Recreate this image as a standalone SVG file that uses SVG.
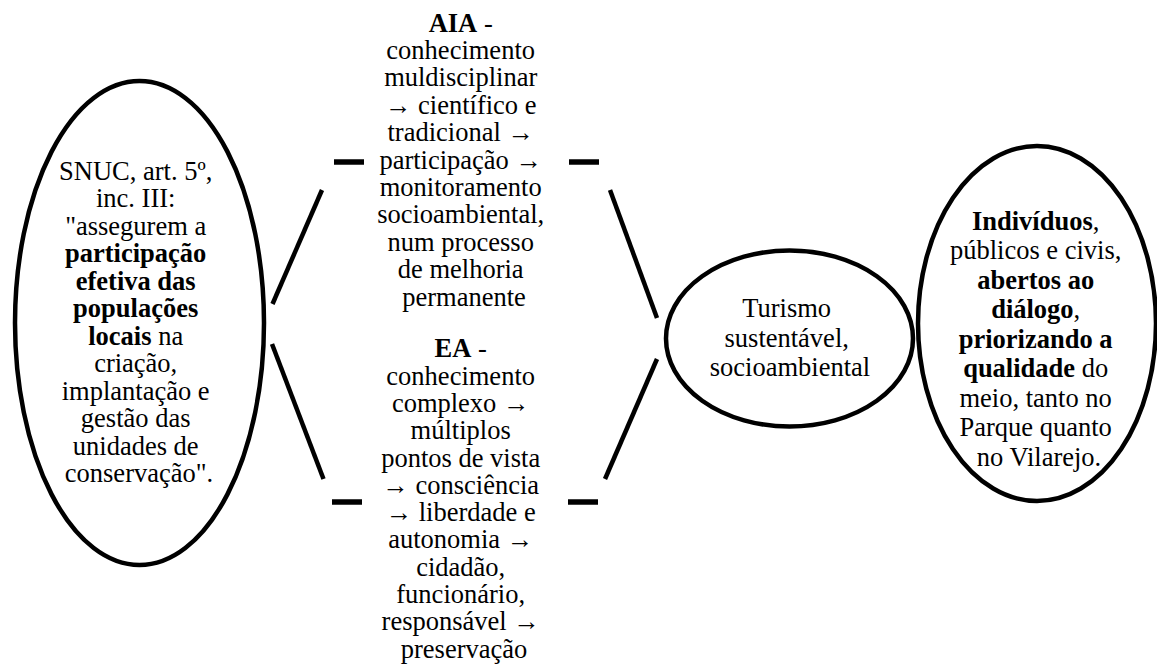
<svg xmlns="http://www.w3.org/2000/svg" width="1157" height="666" viewBox="0 0 1157 666">
<style>
.node ellipse{fill:#fff;stroke:#000;stroke-width:4.5}
text{font-family:"Liberation Serif","Times New Roman",serif;font-size:26.5px;fill:#000;text-anchor:middle}
.b{font-weight:bold}
.conn line{stroke:#000;stroke-width:4.5}
.conn line.dash{stroke-width:5.5}
</style>
<rect width="1157" height="666" fill="#fff"/>
<g id="connectors" class="conn">
<line x1="322" y1="190" x2="272.5" y2="304"/>
<line x1="272" y1="344" x2="323.5" y2="479"/>
<line class="dash" x1="334" y1="162" x2="364" y2="162"/>
<line class="dash" x1="332" y1="502" x2="362" y2="502"/>
<line class="dash" x1="569" y1="162" x2="599" y2="162"/>
<line class="dash" x1="568" y1="502" x2="598" y2="502"/>
<line x1="610" y1="190" x2="657" y2="318"/>
<line x1="657" y1="359" x2="605" y2="479"/>
</g>
<g id="snuc" class="node">
<ellipse cx="139.5" cy="323" rx="124.5" ry="242"/>
<text x="139">
<tspan x="139" y="179.5">SNUC, art. 5º,</tspan>
<tspan x="139" y="207">inc. III:</tspan>
<tspan x="139" y="234.5">"assegurem a</tspan>
<tspan x="139" y="262" class="b">participação</tspan>
<tspan x="139" y="289.5" class="b">efetiva das</tspan>
<tspan x="139" y="317" class="b">populações</tspan>
<tspan x="139" y="344.5"><tspan class="b">locais</tspan> na</tspan>
<tspan x="139" y="372">criação,</tspan>
<tspan x="139" y="399.5">implantação e</tspan>
<tspan x="139" y="427">gestão das</tspan>
<tspan x="139" y="454.5">unidades de</tspan>
<tspan x="139" y="482">conservação".</tspan>
</text>
</g>
<g id="aia" class="node">
<text x="464">
<tspan x="464" y="31.7"><tspan class="b">AIA</tspan> -</tspan>
<tspan x="464" y="59">conhecimento</tspan>
<tspan x="464" y="86.4">muldisciplinar</tspan>
<tspan x="464" y="113.8">→ científico e</tspan>
<tspan x="464" y="141.2">tradicional →</tspan>
<tspan x="464" y="168.6">participação →</tspan>
<tspan x="464" y="196">monitoramento</tspan>
<tspan x="464" y="223.4">socioambiental,</tspan>
<tspan x="464" y="250.8">num processo</tspan>
<tspan x="464" y="278.2">de melhoria</tspan>
<tspan x="464" y="305.6">permanente</tspan>
</text>
</g>
<g id="ea" class="node">
<text x="464">
<tspan x="464" y="357.3"><tspan class="b">EA</tspan> -</tspan>
<tspan x="464" y="384.6">conhecimento</tspan>
<tspan x="464" y="411.9">complexo →</tspan>
<tspan x="464" y="439.2">múltiplos</tspan>
<tspan x="464" y="466.5">pontos de vista</tspan>
<tspan x="464" y="493.8">→ consciência</tspan>
<tspan x="464" y="521.1">→ liberdade e</tspan>
<tspan x="464" y="548.4">autonomia →</tspan>
<tspan x="464" y="575.7">cidadão,</tspan>
<tspan x="464" y="603">funcionário,</tspan>
<tspan x="464" y="630.3">responsável →</tspan>
<tspan x="464" y="657.6">preservação</tspan>
</text>
</g>
<g id="turismo" class="node">
<ellipse cx="789.5" cy="338.5" rx="123.5" ry="88"/>
<text x="790">
<tspan x="790" y="316.7">Turismo</tspan>
<tspan x="790" y="346.5">sustentável,</tspan>
<tspan x="790" y="376.3">socioambiental</tspan>
</text>
</g>
<g id="individuos" class="node">
<ellipse cx="1037" cy="323.5" rx="119" ry="177.5"/>
<text x="1039">
<tspan x="1039" y="229.7"><tspan class="b">Indivíduos</tspan>,</tspan>
<tspan x="1039" y="259.2">públicos e civis,</tspan>
<tspan x="1039" y="288.7" class="b">abertos ao</tspan>
<tspan x="1039" y="318.2"><tspan class="b">diálogo</tspan>,</tspan>
<tspan x="1039" y="347.7" class="b">priorizando a</tspan>
<tspan x="1039" y="377.2"><tspan class="b">qualidade</tspan> do</tspan>
<tspan x="1039" y="406.7">meio, tanto no</tspan>
<tspan x="1039" y="436.2">Parque quanto</tspan>
<tspan x="1039" y="465.7">no Vilarejo.</tspan>
</text>
</g>
</svg>
